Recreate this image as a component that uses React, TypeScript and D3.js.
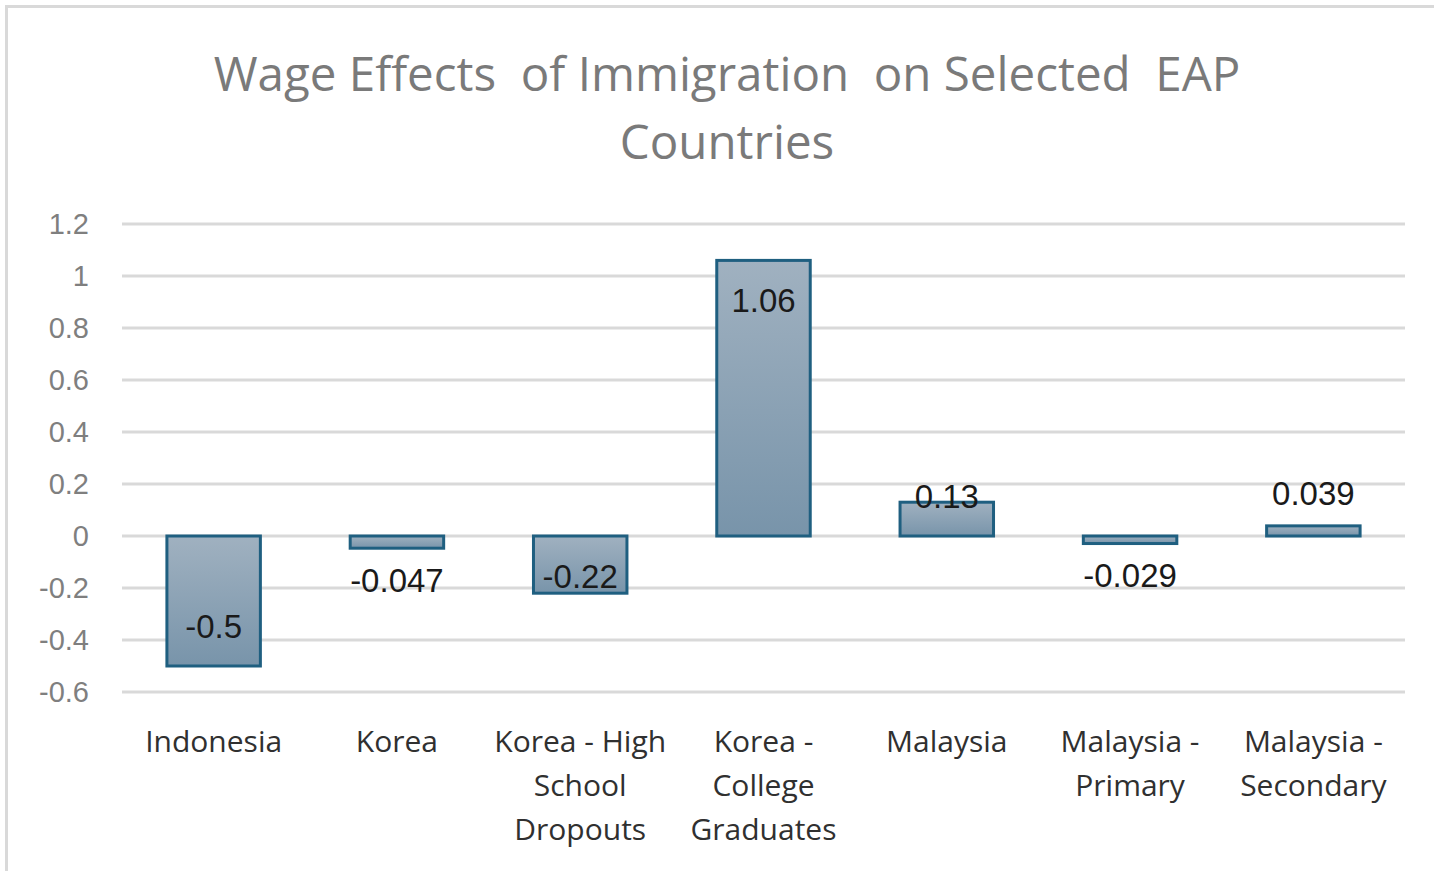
import React, { useRef, useEffect } from 'react';
import * as d3 from 'd3';

const categories = [
  ['Indonesia'],
  ['Korea'],
  ['Korea - High', 'School', 'Dropouts'],
  ['Korea -', 'College', 'Graduates'],
  ['Malaysia'],
  ['Malaysia -', 'Primary'],
  ['Malaysia -', 'Secondary'],
];
const values = [-0.5, -0.047, -0.22, 1.06, 0.13, -0.029, 0.039];
const valueLabels = ['-0.5', '-0.047', '-0.22', '1.06', '0.13', '-0.029', '0.039'];
const yTicks = [1.2, 1, 0.8, 0.6, 0.4, 0.2, 0, -0.2, -0.4, -0.6];
const titleLines = ['Wage Effects  of Immigration  on Selected  EAP', 'Countries'];

const W = 1434;
const H = 871;

const Chart: React.FC = () => {
  const svgRef = useRef<SVGSVGElement | null>(null);

  useEffect(() => {
    if (!svgRef.current) return;
    const svg = d3.select(svgRef.current);
    svg.selectAll('*').remove();

    const margin = { top: 224, right: 29, bottom: 179, left: 122 };

    // chart area border (only top/left visible)
    svg.append('rect')
      .attr('x', 6.5).attr('y', 6.5)
      .attr('width', W + 20).attr('height', H + 20)
      .attr('fill', '#fff')
      .attr('stroke', '#d9d9d9')
      .attr('stroke-width', 3);

    const defs = svg.append('defs');
    const grad = defs.append('linearGradient')
      .attr('id', 'barGrad')
      .attr('x1', 0).attr('y1', 0).attr('x2', 0).attr('y2', 1);
    grad.append('stop').attr('offset', '0%').attr('stop-color', '#a0b1c0');
    grad.append('stop').attr('offset', '100%').attr('stop-color', '#7894aa');

    // title
    svg.append('g')
      .selectAll('text')
      .data(titleLines)
      .join('text')
      .attr('x', 727)
      .attr('y', (d, i) => 91 + i * 68)
      .attr('text-anchor', 'middle')
      .attr('font-family', '"Open Sans", sans-serif')
      .attr('font-size', 47.5)
      .attr('fill', '#7a7a7a')
      .style('white-space', 'pre')
      .text(d => d);

    const x = d3.scaleBand<number>()
      .domain(values.map((_, i) => i))
      .range([margin.left, W - margin.right])
      .paddingInner(0.49)
      .paddingOuter(0.245);

    const y = d3.scaleLinear()
      .domain([-0.6, 1.2])
      .range([H - margin.bottom, margin.top]);

    // gridlines
    svg.append('g')
      .selectAll('line')
      .data(yTicks)
      .join('line')
      .attr('x1', margin.left)
      .attr('x2', W - margin.right)
      .attr('y1', d => Math.round(y(d)))
      .attr('y2', d => Math.round(y(d)))
      .attr('stroke', '#d9d9d9')
      .attr('stroke-width', 3);

    // y tick labels
    svg.append('g')
      .selectAll('text')
      .data(yTicks)
      .join('text')
      .attr('x', 89)
      .attr('y', d => y(d))
      .attr('dy', '0.35em')
      .attr('text-anchor', 'end')
      .attr('font-family', '"Liberation Sans", Arial, sans-serif')
      .attr('font-size', 29)
      .attr('fill', '#7f7f7f')
      .text(d => d3.format('')(d).replace('−', '-'));

    // bars
    svg.append('g')
      .selectAll('rect')
      .data(values)
      .join('rect')
      .attr('x', (d, i) => x(i)!)
      .attr('width', x.bandwidth())
      .attr('y', d => y(Math.max(0, d)))
      .attr('height', d => Math.abs(y(d) - y(0)))
      .attr('fill', 'url(#barGrad)')
      .attr('stroke', '#1f5f80')
      .attr('stroke-width', 3);

    // data labels
    svg.append('g')
      .selectAll('text')
      .data(values)
      .join('text')
      .attr('x', (d, i) => x(i)! + x.bandwidth() / 2)
      .attr('y', d => {
        const h = Math.abs(y(d) - y(0));
        const end = y(d);
        const dir = d >= 0 ? 1 : -1; // +1 means moving down from top end
        if (h < 20) return end - dir * 32;
        const off = Math.min(40, h - 40);
        return end + dir * off;
      })
      .attr('dy', '0.35em')
      .attr('text-anchor', 'middle')
      .attr('font-family', '"Liberation Sans", Arial, sans-serif')
      .attr('font-size', 33)
      .attr('fill', '#1a1a1a')
      .text((d, i) => valueLabels[i]);

    // category labels
    const cat = svg.append('g')
      .selectAll('text')
      .data(categories)
      .join('text')
      .attr('x', (d, i) => x(i)! + x.bandwidth() / 2)
      .attr('y', 752)
      .attr('text-anchor', 'middle')
      .attr('font-family', '"Open Sans", sans-serif')
      .attr('font-size', 30)
      .attr('fill', '#303030');
    cat.selectAll('tspan')
      .data(d => d)
      .join('tspan')
      .attr('x', function () { return (this.parentNode as SVGTextElement).getAttribute('x'); })
      .attr('dy', (d, i) => (i === 0 ? 0 : 44))
      .text(d => d);
  }, []);

  return (
    <svg
      ref={svgRef}
      width={W}
      height={H}
      style={{ position: 'absolute', left: 0, top: 0, background: '#fff' }}
    />
  );
};

export default function App() {
  return <Chart />;
}
